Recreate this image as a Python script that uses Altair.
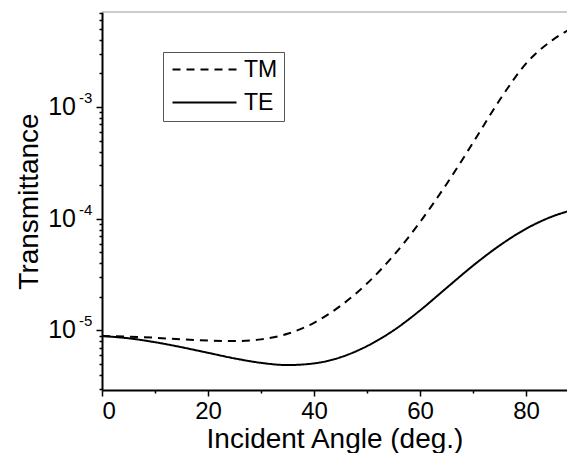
import altair as alt
import pandas as pd

FONT = "Liberation Sans"

angles = [0, 5, 10, 15, 20, 25, 30, 35, 40, 45, 50, 55, 60, 65, 70, 75, 80, 85, 88]
tm_values = [8.91e-6, 8.81e-6, 8.61e-6, 8.32e-6, 8.13e-6, 8.04e-6, 8.32e-6, 9.33e-6,
             1.17e-5, 1.66e-5, 2.63e-5, 4.68e-5, 9.33e-5, 2.04e-4, 4.79e-4, 1.15e-3,
             2.45e-3, 3.98e-3, 4.90e-3]
te_values = [8.91e-6, 8.51e-6, 7.85e-6, 7.08e-6, 6.31e-6, 5.62e-6, 5.13e-6, 4.90e-6,
             5.07e-6, 5.75e-6, 7.24e-6, 1.00e-5, 1.51e-5, 2.40e-5, 3.80e-5, 5.75e-5,
             8.13e-5, 1.05e-4, 1.17e-4]
series_names = ["TM", "TE"]
series_dash = [[8, 6], [1, 0]]

x_tick_values = [0, 10, 20, 30, 40, 50, 60, 70, 80]
y_major_values = [1e-5, 1e-4, 1e-3]
y_major_exponents = ["-5", "-4", "-3"]
y_domain = [2.93e-6, 7.1e-3]
x_domain = [0, 87.74]

rows = []
for name, vals in zip(series_names, [tm_values, te_values]):
    for a, v in zip(angles, vals):
        rows.append({"angle": a, "T": v, "series": name})
df = pd.DataFrame(rows)

y_ticks = []
for e in range(-6, -2):
    for m in range(1, 10):
        v = m * 10.0 ** e
        if y_domain[0] <= v <= y_domain[1]:
            y_ticks.append(v)

ylab = pd.DataFrame({"T": y_major_values, "exp": y_major_exponents})

W, H = 465, 378
is_decade = "abs(log(datum.value)/LN10 - round(log(datum.value)/LN10)) < 0.001"

yscale = alt.Scale(type="log", domain=y_domain, nice=False)
xscale = alt.Scale(domain=x_domain, nice=False, zero=False)

lines = alt.Chart(df).mark_line(color="black", strokeWidth=2, interpolate="monotone").encode(
    x=alt.X("angle:Q", scale=xscale,
            axis=alt.Axis(values=x_tick_values,
                          tickSize={"condition": {"test": "datum.value % 20 == 0", "value": 6}, "value": 3},
                          labelExpr="datum.value % 20 == 0 ? datum.label : ''",
                          title="Incident Angle (deg.)", labelPadding=3, titlePadding=2,
                          labelFontSize=24, titleFontSize=28, grid=False)),
    y=alt.Y("T:Q", scale=yscale,
            axis=alt.Axis(values=y_ticks, labels=False,
                          tickSize={"condition": {"test": is_decade, "value": 6}, "value": 3},
                          title="Transmittance", titleFontSize=28, titlePadding=52, grid=False)),
    strokeDash=alt.StrokeDash("series:N",
                              scale=alt.Scale(domain=series_names, range=series_dash),
                              legend=alt.Legend(orient="none", legendX=61, legendY=40, title=None,
                                                symbolType="M-1,0H7", symbolSize=256,
                                                symbolStrokeWidth=2, symbolStrokeColor="black",
                                                labelFontSize=23, labelFont=FONT, labelColor="black",
                                                labelOffset=52, rowPadding=9, padding=6,
                                                strokeColor="#555", fillColor="white")),
)

ten_text = alt.Chart(ylab).mark_text(align="right", baseline="middle", fontSize=25, font=FONT,
                                     color="black").encode(
    x=alt.value(-26), y=alt.Y("T:Q", scale=yscale), text=alt.value("10"))

exp_text = alt.Chart(ylab).mark_text(align="left", baseline="middle", fontSize=15, font=FONT,
                                     color="black", dy=-9).encode(
    x=alt.value(-23), y=alt.Y("T:Q", scale=yscale), text="exp:N")

top_border = alt.Chart(pd.DataFrame({"a": [0]})).mark_rule(color="#999", strokeWidth=1).encode(
    x=alt.value(0), x2=alt.value(W), y=alt.value(0))

chart = alt.layer(lines, ten_text, exp_text, top_border).properties(
    width=W, height=H,
    autosize=alt.AutoSizeParams(type="none"),
    padding={"left": 94, "top": 4, "right": 0, "bottom": 63},
    background="white",
).configure_view(stroke=None).configure_axis(
    domainColor="black", domainWidth=2, tickColor="black", tickWidth=1.5,
    labelColor="black", titleColor="black", labelFont=FONT, titleFont=FONT,
    titleFontWeight="normal",
)

chart.save("out.html", embed_options={"renderer": "svg", "actions": False})
